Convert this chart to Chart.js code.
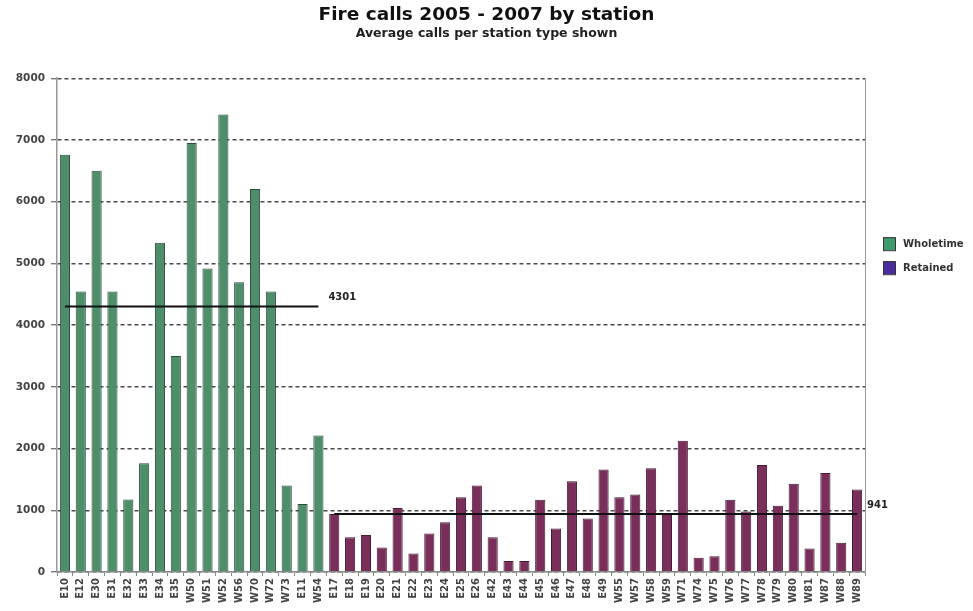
<!DOCTYPE html>
<html>
<head>
<meta charset="utf-8">
<title>Fire calls 2005 - 2007 by station</title>
<script src="https://cdn.jsdelivr.net/npm/chart.js@4.4.0/dist/chart.umd.min.js"></script>
<style>
    html, body {
        margin: 0;
        padding: 0;
        background: #ffffff;
    }
    #box {
        width: 973px;
        height: 611px;
    }
</style>
</head>
<body>
<div id="box"><canvas id="myChart"></canvas></div>
<script>

let wholetimeStations = ["E10", "E12", "E30", "E31", "E32", "E33", "E34", "E35", "W50", "W51", "W52", "W56", "W70", "W72", "W73", "E11", "W54"];
let wholetimeCalls = [6760, 4545, 6500, 4545, 1175, 1760, 5335, 3500, 6950, 4915, 7410, 4695, 6205, 4545, 1400, 1100, 2210];

let retainedStations = ["E17", "E18", "E19", "E20", "E21", "E22", "E23", "E24", "E25", "E26",
    "E42", "E43", "E44", "E45", "E46", "E47", "E48", "E49",
    "W55", "W57", "W58", "W59", "W71", "W74", "W75", "W76", "W77", "W78", "W79", "W80", "W81", "W87", "W88", "W89"];
let retainedCalls = [940, 565, 600, 395, 1035, 300, 625, 805, 1210, 1400,
    565, 180, 180, 1170, 705, 1470, 865, 1660,
    1210, 1255, 1680, 940, 2125, 230, 255, 1170, 980, 1735, 1075, 1430, 380, 1605, 475, 1335];

let wholetimeAverage = 4301;
let retainedAverage = 941;

let yTicks = [0, 1000, 2000, 3000, 4000, 5000, 6000, 7000, 8000];

let legendNames = ["Wholetime", "Retained"];
let legendColours = ["#3f9a6c", "#4a2c9c"];

const smallFont = "'DejaVu Sans', sans-serif";


// one category per station, wholetime first then retained
let stations = wholetimeStations.concat(retainedStations);

function padded(values, before, after) {
    let out = [];
    for (let i = 0; i < before; i++) out.push(null);
    for (let i = 0; i < values.length; i++) out.push(values[i]);
    for (let i = 0; i < after; i++) out.push(null);
    return out;
}

function flat(value, count) {
    let out = [];
    for (let i = 0; i < count; i++) out.push(value);
    return out;
}

let nW = wholetimeStations.length;
let nR = retainedStations.length;
let averages = [wholetimeAverage, retainedAverage];


// average labels, legend and right frame line
const extras = {
    id: "extras",
    afterDatasetsDraw(chart) {
        let ctx = chart.ctx;
        let area = chart.chartArea;

        ctx.save();
        ctx.strokeStyle = "#9a9a9a";
        ctx.lineWidth = 1;
        ctx.beginPath();
        ctx.moveTo(area.right + 0.5, area.top);
        ctx.lineTo(area.right + 0.5, area.bottom);
        ctx.stroke();

        ctx.fillStyle = "#222";
        ctx.font = "bold 10px " + smallFont;
        ctx.textAlign = "left";
        ctx.textBaseline = "bottom";
        for (let k = 0; k < 2; k++) {
            let meta = chart.getDatasetMeta(k + 2);
            let pts = meta.data.filter(function (p) { return !p.skip; });
            let last = pts[pts.length - 1];
            ctx.fillText(String(averages[k]), last.x + 10, last.y - 4);
        }

        let lx = area.right + 18;
        let ly = area.top + 159;
        ctx.font = "bold 10px " + smallFont;
        ctx.textBaseline = "middle";
        for (let i = 0; i < legendNames.length; i++) {
            let y = ly + i * 24;
            ctx.fillStyle = legendColours[i];
            ctx.fillRect(lx, y, 12, 13);
            ctx.strokeStyle = "#333";
            ctx.strokeRect(lx + 0.5, y + 0.5, 12, 13);
            ctx.fillStyle = "#333";
            ctx.fillText(legendNames[i], lx + 20, y + 7);
        }
        ctx.restore();
    }
};

let myChart = new Chart("myChart", {
    type: "bar",
    data: {
        labels: stations,
        datasets: [{
            label: legendNames[0],
            data: padded(wholetimeCalls, 0, nR),
            backgroundColor: "#4f8e6b",
            borderColor: "#2b4d3b",
            borderWidth: 1,
            grouped: false,
            order: 2
        }, {
            label: legendNames[1],
            data: padded(retainedCalls, nW, 0),
            backgroundColor: "#7a2f5b",
            borderColor: "#461a34",
            borderWidth: 1,
            grouped: false,
            order: 2
        }, {
            type: "line",
            label: "Wholetime average",
            data: padded(flat(wholetimeAverage, nW), 0, nR),
            borderColor: "#111",
            borderWidth: 2,
            pointRadius: 0,
            spanGaps: false,
            order: 1
        }, {
            type: "line",
            label: "Retained average",
            data: padded(flat(retainedAverage, nR), nW, 0),
            borderColor: "#111",
            borderWidth: 2,
            pointRadius: 0,
            spanGaps: false,
            order: 1
        }]
    },
    options: {
        responsive: true,
        maintainAspectRatio: false,
        animation: false,
        layout: {
            padding: 0
        },
        datasets: {
            bar: {
                categoryPercentage: 1,
                barPercentage: 0.64
            }
        },
        plugins: {
            legend: { display: false },
            tooltip: { enabled: false },
            title: {
                display: true,
                text: "Fire calls 2005 - 2007 by station",
                color: "#111",
                font: { family: smallFont, size: 18.5, weight: "bold" },
                padding: { top: 4, bottom: 0 }
            },
            subtitle: {
                display: true,
                text: "Average calls per station type shown",
                color: "#222",
                font: { family: smallFont, size: 12.5, weight: "bold" },
                padding: { top: 0, bottom: 37 }
            }
        },
        scales: {
            x: {
                offset: true,
                grid: {
                    drawOnChartArea: false,
                    tickLength: 4,
                    tickColor: "#888"
                },
                border: { color: "#8a8a8a", width: 1.5 },
                ticks: {
                    autoSkip: false,
                    minRotation: 90,
                    maxRotation: 90,
                    padding: 2,
                    color: "#444",
                    font: { family: smallFont, size: 10, weight: "bold" }
                },
                afterFit(scale) {
                    scale.height = 39;
                }
            },
            y: {
                min: 0,
                max: 8000,
                afterBuildTicks(scale) {
                    scale.ticks = yTicks.map(function (v) { return { value: v }; });
                },
                grid: {
                    color: "#4a4a4a",
                    lineWidth: 1.4,
                    tickLength: 6,
                    tickColor: "#777"
                },
                border: { color: "#9a9a9a", width: 1.5, dash: [4, 3] },
                ticks: {
                    padding: 6,
                    color: "#444",
                    font: { family: smallFont, size: 10.5, weight: "bold" },
                    callback: function (value) { return String(value); }
                },
                afterFit(scale) {
                    scale.width = 57;
                }
            },
            // empty right-hand axis that keeps room for the legend
            side: {
                position: "right",
                display: true,
                grid: { display: false },
                border: { display: false },
                ticks: { display: false },
                afterFit(scale) {
                    scale.width = 108;
                }
            }
        }
    },
    plugins: [extras]
});
</script>
</body>
</html>
